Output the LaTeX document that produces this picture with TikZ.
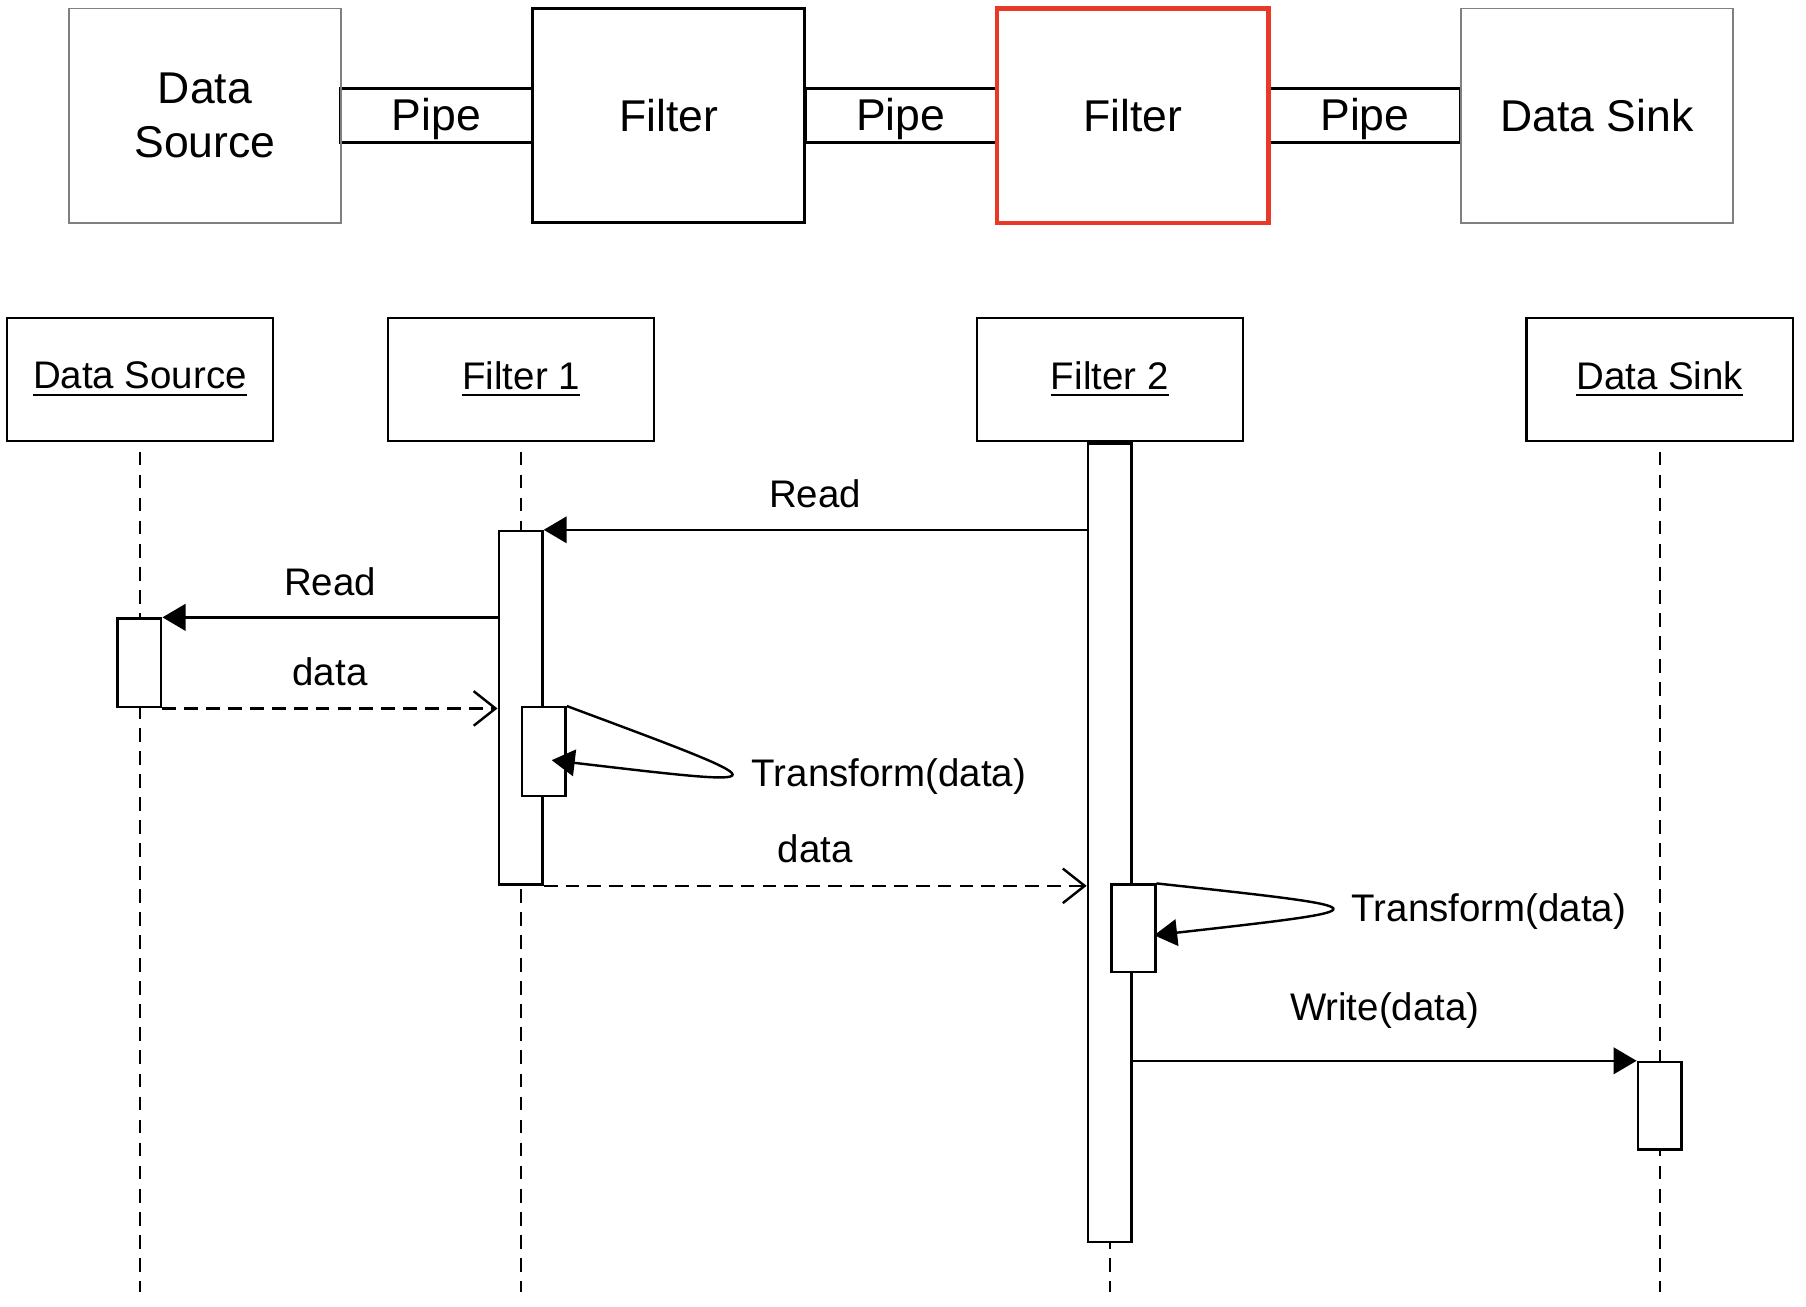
\documentclass[tikz,border=0pt]{standalone}
\usepackage{fontspec}
\setmainfont{Liberation Sans}
\usetikzlibrary{arrows.meta}
\definecolor{hilite}{RGB}{232,56,40}
\newcommand{\bigtxt}{\fontsize{11}{13.3}\selectfont}
\newcommand{\smalltxt}{\fontsize{9.5}{11}\selectfont}

\begin{document}
\begin{tikzpicture}[x=0.1mm,y=-0.1mm,
    comp/.style={draw,minimum width=2.36cm,minimum height=1.86cm,inner sep=0pt,font=\bigtxt,align=center},
    pipe/.style={draw,line width=0.75pt,minimum width=1.66cm,minimum height=0.47cm,inner sep=0pt,
        text height=8pt,text depth=0.9pt,font=\bigtxt},
    obj/.style={draw,line width=0.6pt,minimum width=2.31cm,minimum height=1.07cm,inner sep=0pt,font=\smalltxt},
    act/.style={draw,fill=white,line width=0.6pt,minimum width=0.38cm,inner sep=0pt},
    life/.style={line width=0.6pt,dash pattern=on 0.12cm off 0.08cm,dash phase=0.12cm},
    call/.style={line width=0.6pt,-{Triangle[length=0.2cm,width=0.23cm]}},
    reply/.style={line width=0.6pt,dash pattern=on 0.12cm off 0.07cm,-{Straight Barb[length=0.19cm,width=0.3cm]}},
    lbl/.style={font=\smalltxt}]
    \useasboundingbox (0,0) rectangle (1568,1134);

    % pipes and filters
    \node[pipe] (pipeA) at (379,100.5) {Pipe};
    \node[pipe] (pipeB) at (782,100.5) {Pipe};
    \node[pipe] (pipeC) at (1185,100.5) {Pipe};
    \node[comp,draw=gray,line width=0.4pt] (src) at (178,100.5) {Data\\Source};
    \node[comp,line width=0.75pt] (filtA) at (580.5,100.5) {Filter};
    \node[comp,draw=hilite,line width=1.1pt] (filtB) at (983.5,100.5) {Filter};
    \node[comp,draw=gray,line width=0.4pt] (sink) at (1386.5,100.5) {Data Sink};

    % objects and lifelines
    \node[obj] (hsrc) at (121.5,329.5) {\underline{Data Source}};
    \node[obj] (hfa) at (452.5,329.5) {\underline{Filter 1}};
    \node[obj] (hfb) at (963.5,329.5) {\underline{Filter 2}};
    \node[obj] (hsink) at (1441,329.5) {\underline{Data Sink}};
    \coordinate (floor) at (0,1122);
    \foreach \h in {hsrc,hfa,hfb,hsink}
        \draw[life] (\h.south) -- (\h.south |- floor);

    % activations
    \node[act,minimum height=6.93cm,anchor=north] (afb) at (hfb.south) {};
    \node[act,minimum height=3.07cm,anchor=north] (afa) at (452,460) {};
    \node[act,minimum height=0.77cm,anchor=north] (asrc) at (121,536) {};
    \node[act,minimum height=0.77cm,anchor=north west] (afa2) at (452,613) {};
    \node[act,minimum height=0.76cm,anchor=north west] (afb2) at (964,767) {};
    \node[act,minimum height=0.76cm,anchor=north] (asink) at (1441,921) {};

    % messages
    \draw[call] (afa.north -| afb.west) -- (afa.north east)
        node[lbl,midway,yshift=0.31cm] (m1) {Read};
    \draw[call] (asrc.north -| afa.west) -- (asrc.north east)
        node[lbl,midway,yshift=0.31cm] (m2) {Read};
    \draw[reply] (asrc.south east) -- (asrc.south east -| afa.west)
        node[lbl,midway,yshift=0.32cm] (m3) {data};
    \coordinate (back1) at (479,660);
    \draw[call] (afa2.north east) .. controls (683,684) and (683,684) .. (back1);
    \node[lbl,anchor=west,inner sep=0pt] (m4) at (652,674) {Transform(data)};
    \draw[reply] (afa.south east) -- (afa.south east -| afb.west)
        node[lbl,midway,yshift=0.32cm] (m5) {data};
    \coordinate (back2) at (1002,812);
    \draw[call] (afb2.north east) .. controls (1206,789) and (1206,789) .. (back2);
    \node[lbl,anchor=west,inner sep=0pt] (m6) at (1173,791) {Transform(data)};
    \draw[call] (asink.north west -| afb.east) -- (asink.north west)
        node[lbl,midway,yshift=0.44cm] (m7) {Write(data)};
\end{tikzpicture}
\end{document}
